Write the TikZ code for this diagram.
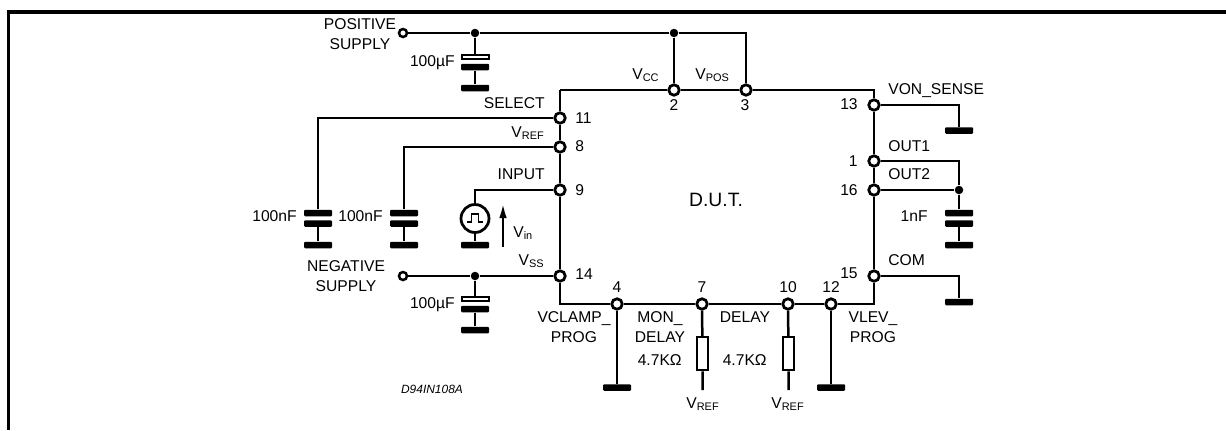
\documentclass[tikz,border=0pt]{standalone}
\usepackage{fontspec}
\setmainfont{Liberation Sans}
\usetikzlibrary{arrows.meta}

\tikzset{
    wire/.style={line width=0.05cm},
    pin/.style={circle, draw, fill=white, line width=0.055cm, inner sep=0pt, minimum size=0.21cm},
    terminal/.style={circle, draw, fill=white, line width=0.05cm, inner sep=0pt, minimum size=0.16cm},
    joint/.style={circle, fill=black, inner sep=0pt, minimum size=0.17cm},
    plate/.style={rectangle, rounded corners=0.02cm, fill=black, inner sep=0pt, minimum width=0.56cm, minimum height=0.13cm},
    openplate/.style={rectangle, draw, fill=white, line width=0.04cm, inner sep=0pt, minimum width=0.54cm, minimum height=0.08cm},
    resistor/.style={rectangle, draw, line width=0.05cm, inner sep=0pt, minimum width=0.22cm, minimum height=0.66cm},
    lbl/.style={inner sep=0pt, font=\fontsize{8.9pt}{11.3pt}\selectfont, align=center}
}

\begin{document}
\begin{tikzpicture}[x=0.02cm, y=-0.02cm]
        \useasboundingbox (0,0) rectangle (1226,430);

        % Rahmen
        \coordinate (frameA) at (8.5,430);
        \coordinate (frameB) at (8.5,12);
        \coordinate (frameC) at (1226,12);
        \draw[line width=0.07cm] (frameA) -- (frameB) -- (frameC);

        % Pins links und oben
        \node[pin] (pin11) at (560,118) {};
        \node[pin] (pin8) at (560,147) {};
        \node[pin] (pin9) at (560,190) {};
        \node[pin] (pin14) at (560,276) {};
        \node[pin] (pin2) at (674,90) {};
        \node[pin] (pin3) at (746,90) {};

        % Pins rechts und unten
        \node[pin] (pin13) at (874,105) {};
        \node[pin] (pin1) at (874,161) {};
        \node[pin] (pin16) at (874,190) {};
        \node[pin] (pin15) at (874,276) {};
        \node[pin] (pin4) at (617,304) {};
        \node[pin] (pin7) at (702,304) {};
        \node[pin] (pin10) at (788,304) {};
        \node[pin] (pin12) at (831,304) {};

        % Gehaeuse D.U.T.
        \coordinate (dutNW) at (560,90);
        \coordinate (dutNE) at (874,90);
        \coordinate (dutSE) at (874,304);
        \coordinate (dutSW) at (560,304);
        \draw[wire] (dutNW) -- (pin2) -- (pin3) -- (dutNE) -- (pin13) -- (pin1) -- (pin16) -- (pin15) -- (dutSE)
            -- (pin12) -- (pin10) -- (pin7) -- (pin4) -- (dutSW) -- (pin14) -- (pin9) -- (pin8) -- (pin11) -- (dutNW);

        % positive Versorgung
        \node[terminal] (posterm) at (403,33) {};
        \node[joint] (posjoint) at (475,33) {};
        \node[joint] (vccjoint) at (674,33) {};
        \coordinate (poscorner) at (746,33);
        \node[openplate] (poscapa) at (475,56.5) {};
        \node[plate] (poscapb) at (475,67) {};
        \node[plate] (posgnd) at (475,88) {};
        \draw[wire] (posterm) -- (posjoint) -- (vccjoint) -- (poscorner) -- (pin3);
        \draw[wire] (vccjoint) -- (pin2);
        \draw[wire] (posjoint) -- (poscapa);
        \draw[wire] (poscapb) -- (posgnd);

        % negative Versorgung
        \node[terminal] (negterm) at (403,276) {};
        \node[joint] (negjoint) at (475,276) {};
        \node[openplate] (negcapa) at (475,299) {};
        \node[plate] (negcapb) at (475,309) {};
        \node[plate] (neggnd) at (475,330) {};
        \draw[wire] (negterm) -- (negjoint) -- (pin14);
        \draw[wire] (negjoint) -- (negcapa);
        \draw[wire] (negcapb) -- (neggnd);

        % SELECT und VREF Kondensatoren
        \node[plate] (selcapa) at (318,213) {};
        \node[plate] (selcapb) at (318,223.5) {};
        \node[plate] (selgnd) at (318,245) {};
        \node[plate] (refcapa) at (404,213) {};
        \node[plate] (refcapb) at (404,223.5) {};
        \node[plate] (refgnd) at (404,245) {};
        \draw[wire] (pin11) -| (selcapa);
        \draw[wire] (selcapb) -- (selgnd);
        \draw[wire] (pin8) -| (refcapa);
        \draw[wire] (refcapb) -- (refgnd);

        % Eingangssignal
        \node[circle, draw, line width=0.055cm, inner sep=0pt, minimum size=0.56cm] (source) at (475,218.5) {};
        \node[plate] (srcgnd) at (475,245) {};
        \coordinate (srcpulseA) at (467,222);
        \coordinate (srcpulseB) at (471.5,222);
        \coordinate (srcpulseC) at (471.5,214);
        \coordinate (srcpulseD) at (478.5,214);
        \coordinate (srcpulseE) at (478.5,222);
        \coordinate (srcpulseF) at (483,222);
        \coordinate (vinA) at (503,247);
        \coordinate (vinB) at (503,203);
        \draw[wire] (pin9) -| (source);
        \draw[wire] (source) -- (srcgnd);
        \draw[line width=0.035cm] (srcpulseA) -- (srcpulseB) -- (srcpulseC) -- (srcpulseD) -- (srcpulseE) -- (srcpulseF);
        \draw[-{Latex[length=0.3cm,width=0.15cm]}, wire] (vinA) -- (vinB);

        % Masse rechts
        \node[plate] (sensegnd) at (959,130.5) {};
        \node[joint] (outjoint) at (959,190) {};
        \coordinate (outcorner) at (959,161);
        \node[plate] (outcapa) at (959,213) {};
        \node[plate] (outcapb) at (959,223.5) {};
        \node[plate] (outgnd) at (959,245) {};
        \node[plate] (comgnd) at (959,302) {};
        \draw[wire] (pin13) -| (sensegnd);
        \draw[wire] (pin1) -- (outcorner) -- (outjoint);
        \draw[wire] (pin16) -- (outjoint) -- (outcapa);
        \draw[wire] (outcapb) -- (outgnd);
        \draw[wire] (pin15) -| (comgnd);

        % Masse und Widerstaende unten
        \node[plate] (clampgnd) at (617,387.5) {};
        \node[plate] (levgnd) at (831,387.5) {};
        \node[resistor] (resmon) at (702.5,353.5) {};
        \node[resistor] (resdel) at (788.5,353.5) {};
        \coordinate (refmon) at (702.5,390);
        \coordinate (refdel) at (788.5,390);
        \draw[wire] (pin4) -- (clampgnd);
        \draw[wire] (pin12) -- (levgnd);
        \draw[wire] (pin7) -- (resmon) -- (refmon);
        \draw[wire] (pin10) -- (resdel) -- (refdel);

        % Pinnummern
        \node[lbl, anchor=base west] (num11) at (575,123.5) {11};
        \node[lbl, anchor=base west] (num8) at (575,151.5) {8};
        \node[lbl, anchor=base west] (num9) at (575,195.5) {9};
        \node[lbl, anchor=base west] (num14) at (575,279.5) {14};
        \node[lbl, anchor=base] (num2) at (674,110.5) {2};
        \node[lbl, anchor=base] (num3) at (745,110.5) {3};
        \node[lbl, anchor=base east] (num13) at (858,109.5) {13};
        \node[lbl, anchor=base east] (num1) at (858,166.5) {1};
        \node[lbl, anchor=base east] (num16) at (858,195.5) {16};
        \node[lbl, anchor=base east] (num15) at (858,278.5) {15};
        \node[lbl, anchor=base] (num4) at (617,292.5) {4};
        \node[lbl, anchor=base] (num7) at (702,292.5) {7};
        \node[lbl, anchor=base] (num10) at (788,292.5) {10};
        \node[lbl, anchor=base] (num12) at (831,292.5) {12};

        % Beschriftung links
        \node[lbl] (lblpos) at (360,34) {POSITIVE\\SUPPLY};
        \node[lbl] (lblneg) at (346,276) {NEGATIVE\\SUPPLY};
        \node[lbl, anchor=base east] (lblposcap) at (455,66.5) {100µF};
        \node[lbl, anchor=base east] (lblnegcap) at (455,308.5) {100µF};
        \node[lbl, anchor=base east] (lblselcap) at (297,221.5) {100nF};
        \node[lbl, anchor=base east] (lblrefcap) at (383,221.5) {100nF};
        \node[lbl, anchor=base east] (lblselect) at (545,108.5) {SELECT};
        \node[lbl, anchor=base east] (lblvref) at (545,137) {V\textsubscript{REF}};
        \node[lbl, anchor=base east] (lblinput) at (545,179.5) {INPUT};
        \node[lbl, anchor=base east] (lblvss) at (545,265) {V\textsubscript{SS}};
        \node[lbl, anchor=base west] (lblvin) at (513,237) {V\textsubscript{in}};
        \node[lbl, anchor=base west] (lblvcc) at (632,79) {V\textsubscript{CC}};
        \node[lbl, anchor=base west] (lblvpos) at (695,79) {V\textsubscript{POS}};

        % Beschriftung rechts
        \node[lbl, anchor=base west] (lblsense) at (888,94.5) {VON\_SENSE};
        \node[lbl, anchor=base west] (lblout1) at (888,151.5) {OUT1};
        \node[lbl, anchor=base west] (lblout2) at (888,179.5) {OUT2};
        \node[lbl, anchor=base east] (lbloutcap) at (928,221.5) {1nF};
        \node[lbl, anchor=base west] (lblcom) at (888,265.5) {COM};
        \node[lbl, font=\fontsize{11pt}{13pt}\selectfont] (lbldut) at (716,200) {D.U.T.};

        % Beschriftung unten
        \node[lbl] (lblclamp) at (574,327) {VCLAMP\_\\PROG};
        \node[lbl] (lblmon) at (660,327) {MON\_\\DELAY};
        \node[lbl, anchor=base] (lbldelay) at (745,322.5) {DELAY};
        \node[lbl] (lbllev) at (873,327) {VLEV\_\\PROG};
        \node[lbl, anchor=base east] (lblresmon) at (682,365.5) {4.7KΩ};
        \node[lbl, anchor=base east] (lblresdel) at (767,365.5) {4.7KΩ};
        \node[lbl, anchor=base] (lblrefmon) at (703,408) {V\textsubscript{REF}};
        \node[lbl, anchor=base] (lblrefdel) at (788,408) {V\textsubscript{REF}};
        \node[lbl, font=\fontsize{6.8pt}{8pt}\itshape] (lblcode) at (432,389) {D94IN108A};
    \end{tikzpicture}
\end{document}
